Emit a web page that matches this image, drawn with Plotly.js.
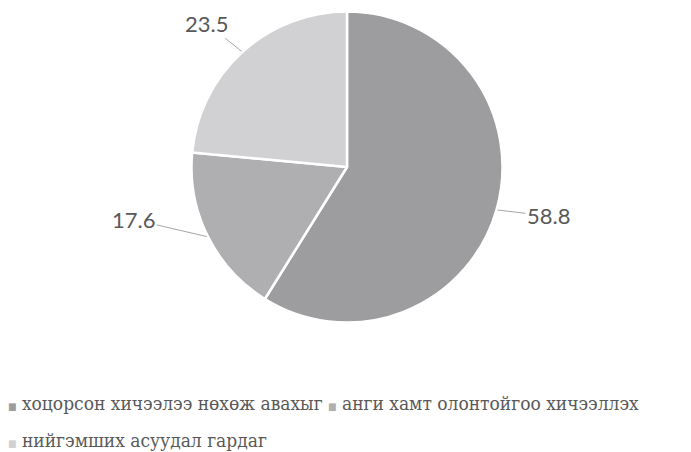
<!DOCTYPE html>
<html>
<head>
<meta charset="utf-8">
<script src="https://cdn.plot.ly/plotly-3.0.1.min.js"></script>
<style>html,body{margin:0;padding:0;background:#fff;}#chart{width:691px;height:452px;}</style>
</head>
<body>
<div id="chart"></div>
<script>
// ---- data ----
var categories = ["хоцорсон хичээлээ нөхөж авахыг", "анги хамт олонтойгоо хичээллэх", "нийгэмших асуудал гардаг"];
var values = [58.8, 17.6, 23.5];
var valueLabels = ["58.8", "17.6", "23.5"];
var colors = ["#9d9d9f", "#afafb1", "#d1d1d3"];

// ---- layout constants ----
var W = 691, H = 452;
var cx = 347, cy = 167, R = 155.5;
var labelOffsets = [[51, 6], [-73, -17], [-35, -28]];
var legendPos = [[6, 403], [326, 403], [6, 440]];

var trace = {
  type: "pie",
  values: values,
  labels: categories,
  sort: false,
  direction: "clockwise",
  rotation: 0,
  textinfo: "none",
  hoverinfo: "label+value",
  marker: {colors: colors, line: {color: "#ffffff", width: 2.5}},
  domain: {x: [(cx - R) / W, (cx + R) / W], y: [1 - (cy + R) / H, 1 - (cy - R) / H]},
  showlegend: false
};

var annotations = [];
var total = values.reduce(function (a, b) { return a + b; }, 0);
var cum = 0;
for (var i = 0; i < values.length; i++) {
  var mid = (cum + values[i] / 2) / total * 2 * Math.PI;
  cum += values[i];
  var ex = cx + (R + 1) * Math.sin(mid);
  var ey = cy - (R + 1) * Math.cos(mid);
  annotations.push({
    x: ex / W, y: 1 - ey / H, xref: "paper", yref: "paper",
    text: valueLabels[i],
    showarrow: true, arrowhead: 0, arrowwidth: 1, arrowcolor: "#a6a6a6", standoff: 0,
    ax: labelOffsets[i][0], ay: labelOffsets[i][1],
    font: {family: "Lato, sans-serif", size: 22, color: "#595959"}
  });
}
for (var j = 0; j < categories.length; j++) {
  annotations.push({
    x: legendPos[j][0] / W, y: 1 - legendPos[j][1] / H, xref: "paper", yref: "paper",
    xanchor: "left", yanchor: "middle", showarrow: false,
    text: '<span style="color:' + colors[j] + ';font-size:10px">■</span> ' + categories[j],
    font: {family: "DejaVu Serif Condensed, Liberation Serif, DejaVu Serif, serif", size: 19, color: "#595959"}
  });
}

var layout = {
  width: W, height: H,
  margin: {l: 0, r: 0, t: 0, b: 0},
  paper_bgcolor: "#ffffff",
  plot_bgcolor: "#ffffff",
  showlegend: false,
  annotations: annotations
};

Plotly.newPlot("chart", [trace], layout, {displayModeBar: false, staticPlot: true});
</script>
</body>
</html>
